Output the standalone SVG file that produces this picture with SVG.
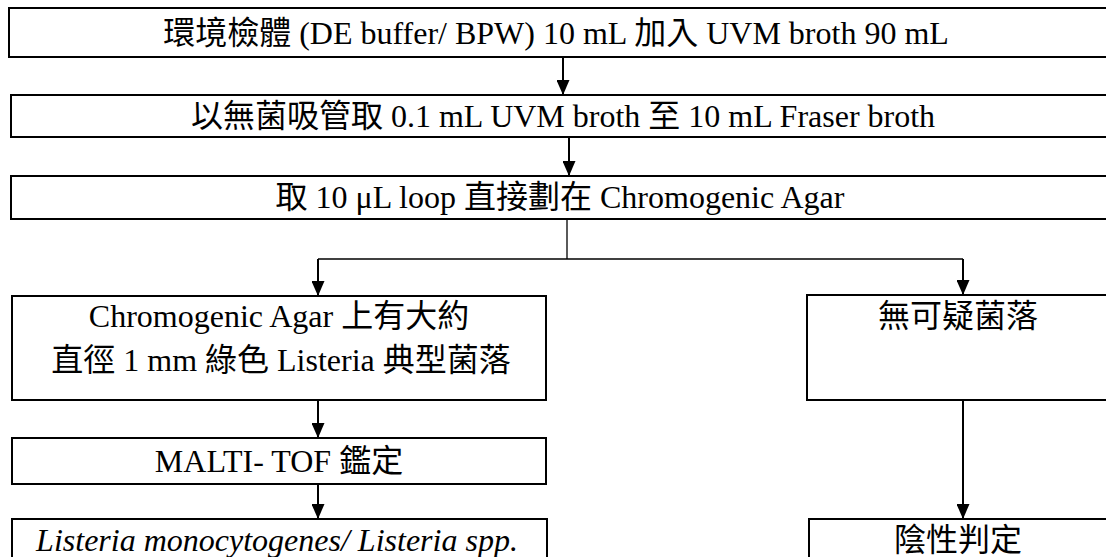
<svg xmlns="http://www.w3.org/2000/svg" width="1106" height="557" viewBox="0 0 1106 557">
<defs>
<style>
.box{fill:#fff;stroke:#000;stroke-width:2}
.t{font-family:"Liberation Serif","Noto Sans CJK TC",serif;font-size:32px;fill:#000;text-anchor:middle}
.i{font-style:italic}
.c{stroke:#000;stroke-width:2;fill:none}
.thin{stroke:#000;stroke-width:1.3;fill:none}
</style>
<marker id="ah" viewBox="0 0 15 13" refX="15" refY="6.5" markerWidth="15" markerHeight="13" markerUnits="userSpaceOnUse" orient="auto">
<path d="M0,0 L15,6.5 L0,13 Z" fill="#000"/>
</marker>
</defs>
<rect width="1106" height="557" fill="#fff"/>
<g id="connectors">
<line class="c" x1="563" y1="57" x2="563" y2="95" marker-end="url(#ah)"/>
<line class="c" x1="569" y1="137" x2="569" y2="176" marker-end="url(#ah)"/>
<polyline class="thin" points="567,219 567,259"/>
<polyline class="thin" points="318,259 963,259"/>
<line class="c" x1="318" y1="259" x2="318" y2="296" marker-end="url(#ah)"/>
<line class="c" x1="963" y1="259" x2="963" y2="295" marker-end="url(#ah)"/>
<line class="c" x1="318" y1="400" x2="318" y2="438" marker-end="url(#ah)"/>
<line class="c" x1="318" y1="484" x2="318" y2="519" marker-end="url(#ah)"/>
<line class="c" x1="963" y1="400" x2="963" y2="519" marker-end="url(#ah)"/>
</g>
<g id="n1">
<rect class="box" x="9" y="8" width="1110" height="49"/>
<text class="t" x="556" y="44">環境檢體 (DE buffer/ BPW) 10 mL 加入 UVM broth 90 mL</text>
</g>
<g id="n2">
<rect class="box" x="11" y="95" width="1110" height="42"/>
<text class="t" x="563" y="127">以無菌吸管取 0.1 mL UVM broth 至 10 mL Fraser broth</text>
</g>
<g id="n3">
<rect class="box" x="11" y="176" width="1110" height="43"/>
<text class="t" x="560" y="208">取 10 μL loop 直接劃在 Chromogenic Agar</text>
</g>
<g id="n4">
<rect class="box" x="12" y="296" width="534" height="104"/>
<text class="t" x="279" y="327">Chromogenic Agar 上有大約</text>
<text class="t" x="281" y="371">直徑 1 mm 綠色 Listeria 典型菌落</text>
</g>
<g id="n5">
<rect class="box" x="807" y="295" width="320" height="105"/>
<text class="t" x="958" y="327">無可疑菌落</text>
</g>
<g id="n6">
<rect class="box" x="12" y="438" width="534" height="46"/>
<text class="t" x="279" y="472">MALTI- TOF 鑑定</text>
</g>
<g id="n7">
<rect class="box" x="12" y="519" width="535" height="60"/>
<text class="t i" x="277" y="551">Listeria monocytogenes/ Listeria spp.</text>
</g>
<g id="n8">
<rect class="box" x="809" y="519" width="320" height="60"/>
<text class="t" x="958" y="551">陰性判定</text>
</g>
</svg>
